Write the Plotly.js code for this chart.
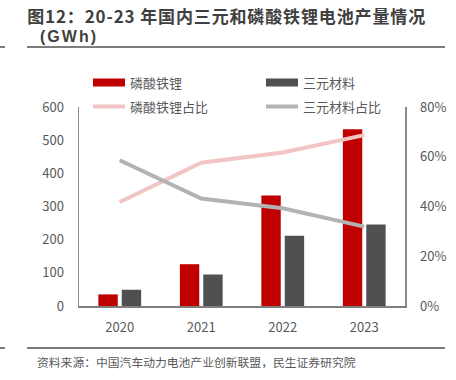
<!DOCTYPE html>
<html>
<head>
<meta charset="utf-8">
<script src="https://cdn.plot.ly/plotly-3.0.1.min.js"></script>
<style>html,body{margin:0;padding:0;background:#fff;}#chart{width:456px;height:380px;}</style>
</head>
<body>
<div id="chart"></div>
<script>
// ---- data ----
const years = ['2020', '2021', '2022', '2023'];
const lfpOutput = [35, 126, 333, 533];        // 磷酸铁锂 GWh
const nmcOutput = [49, 95, 212, 246];         // 三元材料 GWh
const lfpShare = [0.418, 0.576, 0.617, 0.687];  // 磷酸铁锂占比
const nmcShare = [0.586, 0.432, 0.393, 0.319];  // 三元材料占比
const seriesNames = ['磷酸铁锂', '三元材料', '磷酸铁锂占比', '三元材料占比'];
const titleLine1 = '图12：20-23 年国内三元和磷酸铁锂电池产量情况';
const titleLine2 = '(GWh)';
const sourceText = '资料来源：中国汽车动力电池产业创新联盟，民生证券研究院';

// ---- layout helpers (pixel -> paper) ----
const W = 456, H = 380, ML = 79, MR = 51, MT = 107, MB = 74;
const PW = W - ML - MR, PH = H - MT - MB;
const px = x => (x - ML) / PW;
const py = y => (H - MB - y) / PH;

const FONT = '"Noto Sans CJK SC", "Noto Sans", sans-serif';
const TXT = '#595959';
const colors = ['#C00000', '#505052', '#F2C4C4', '#B3B3B3'];

const traces = [
  {type: 'bar', x: years, y: lfpOutput, name: seriesNames[0], marker: {color: colors[0]}, showlegend: false},
  {type: 'bar', x: years, y: nmcOutput, name: seriesNames[1], marker: {color: colors[1]}, showlegend: false},
  {type: 'scatter', mode: 'lines', x: years, y: lfpShare, yaxis: 'y2', name: seriesNames[2], line: {color: colors[2], width: 4}, showlegend: false},
  {type: 'scatter', mode: 'lines', x: years, y: nmcShare, yaxis: 'y2', name: seriesNames[3], line: {color: colors[3], width: 4}, showlegend: false}
];

// custom legend
const legendRows = [
  {sx: 93, tx: 128, y: 82.5, i: 0, kind: 'rect'},
  {sx: 266, tx: 301, y: 82.5, i: 1, kind: 'rect'},
  {sx: 93, tx: 128, y: 106.5, i: 2, kind: 'line'},
  {sx: 266, tx: 301, y: 106.5, i: 3, kind: 'line'}
];
const shapes = [
  {type: 'line', xref: 'paper', yref: 'paper', x0: px(27), x1: px(445), y0: py(47), y1: py(47), line: {color: '#505050', width: 1.5}},
  {type: 'line', xref: 'paper', yref: 'paper', x0: px(0), x1: px(5), y0: py(47), y1: py(47), line: {color: '#505050', width: 1.5}},
  {type: 'line', xref: 'paper', yref: 'paper', x0: px(27), x1: px(445), y0: py(348), y1: py(348), line: {color: '#505050', width: 1.5}},
  {type: 'line', xref: 'paper', yref: 'paper', x0: px(0), x1: px(5), y0: py(348), y1: py(348), line: {color: '#505050', width: 1.5}}
];
const annotations = [
  {xref: 'paper', yref: 'paper', x: px(36), y: py(15), xanchor: 'left', yanchor: 'middle', showarrow: false,
   text: '<b>' + titleLine1 + '</b>', font: {family: FONT, size: 17, color: '#404040'}},
  {xref: 'paper', yref: 'paper', x: px(42), y: py(36.5), xanchor: 'left', yanchor: 'middle', showarrow: false,
   text: '<b>' + titleLine2 + '</b>', font: {family: '"Liberation Sans", Arial, sans-serif', size: 16, color: '#404040'}},
  {xref: 'paper', yref: 'paper', x: px(35), y: py(361), xanchor: 'left', yanchor: 'middle', showarrow: false,
   text: sourceText, font: {family: FONT, size: 11.8, color: TXT}}
];
legendRows.forEach(r => {
  if (r.kind === 'rect') {
    shapes.push({type: 'rect', xref: 'paper', yref: 'paper', x0: px(r.sx), x1: px(r.sx + 32), y0: py(r.y - 4), y1: py(r.y + 4),
      fillcolor: colors[r.i], line: {width: 0}});
  } else {
    shapes.push({type: 'line', xref: 'paper', yref: 'paper', x0: px(r.sx), x1: px(r.sx + 32), y0: py(r.y), y1: py(r.y),
      line: {color: colors[r.i], width: 4}});
  }
  annotations.push({xref: 'paper', yref: 'paper', x: px(r.tx), y: py(r.y), xanchor: 'left', yanchor: 'middle', showarrow: false,
    text: seriesNames[r.i], font: {family: FONT, size: 13, color: TXT}});
});

const layout = {
  width: W, height: H,
  margin: {l: ML, r: MR, t: MT, b: MB, pad: 0},
  paper_bgcolor: '#fff', plot_bgcolor: '#fff',
  font: {family: FONT, size: 13, color: TXT},
  barmode: 'group', bargap: 0.426, bargroupgap: 0.171,
  showlegend: false,
  xaxis: {type: 'category', showgrid: false, zeroline: false, showline: true, linecolor: '#7f7f7f', linewidth: 1.5,
    ticks: '', ticklabelstandoff: 9, tickfont: {family: FONT, size: 13, color: TXT}},
  yaxis: {range: [0, 600], dtick: 100, showgrid: false, zeroline: false, showline: true, linecolor: '#8c8c8c', linewidth: 1.5,
    ticks: '', ticklabelstandoff: 11, tickfont: {family: FONT, size: 13, color: TXT}},
  yaxis2: {overlaying: 'y', side: 'right', range: [0, 0.8], dtick: 0.2, tickformat: '.0%', showgrid: false, zeroline: false,
    showline: true, linecolor: '#8c8c8c', linewidth: 1.5, ticks: '', ticklabelstandoff: 11, tickfont: {family: FONT, size: 13, color: TXT}},
  shapes: shapes,
  annotations: annotations
};

Plotly.newPlot('chart', traces, layout, {displayModeBar: false, staticPlot: true}).then(() => {
  // stretch the title's character spacing to the reference's width
  const targets = [{idx: 0, w: 398}, {idx: 1, w: 56}];
  targets.forEach(tg => {
    const el = document.querySelector('#chart g.annotation[data-index="' + tg.idx + '"] text.annotation-text');
    if (el) {
      el.setAttribute('textLength', tg.w);
      el.setAttribute('lengthAdjust', 'spacing');
    }
  });
});
</script>
</body>
</html>
